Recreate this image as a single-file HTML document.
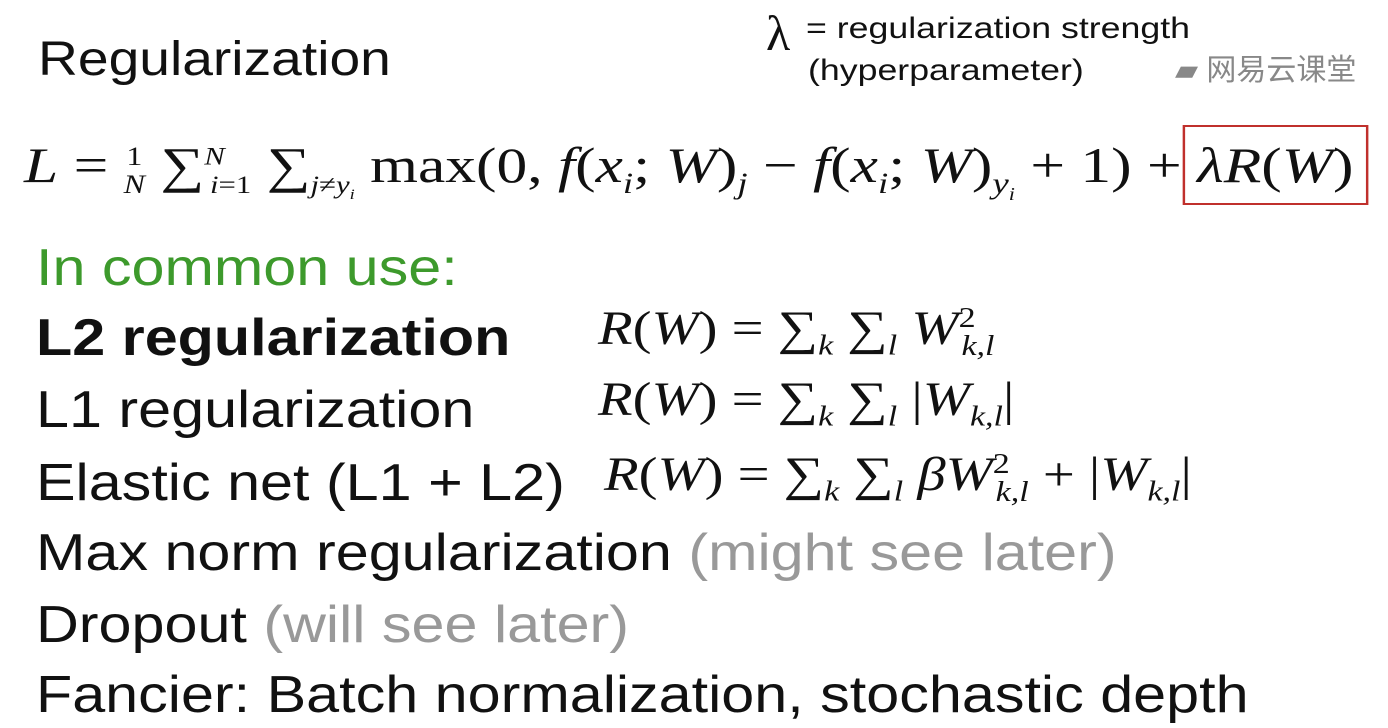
<!DOCTYPE html>
<html><head><meta charset="utf-8"><style>
body{margin:0;width:1388px;height:728px;background:#fff;overflow:hidden;position:relative;font-family:"Liberation Sans",sans-serif;color:#111}
.t{position:absolute;white-space:nowrap;line-height:1;transform-origin:0 0}
.s{font-size:52px;transform:scaleX(1.14)}
.g{color:#999}
.m{font-family:"Liberation Serif","DejaVu Serif",serif;font-size:48px;position:absolute;white-space:nowrap;line-height:1;transform-origin:0 0;transform:scaleX(1.18)}
.m i{font-style:italic}
sub,sup{font-size:60%}
</style></head><body>
<div class="t" style="left:38px;top:36px;font-size:48px;transform:scaleX(1.15)">Regularization</div>
<div class="t" style="left:766px;top:8px;font-size:50px;font-family:'Liberation Serif',serif">λ</div>
<div class="t" style="left:806px;top:14px;font-size:30px;transform:scaleX(1.19)">= regularization strength</div>
<div class="t" style="left:808px;top:56px;font-size:30px;transform:scaleX(1.19)">(hyperparameter)</div>
<div class="t" style="left:1175px;top:56px;font-size:30px;color:#888;font-family:'Liberation Sans','Noto Sans CJK SC',sans-serif">▰ 网易云课堂</div>

<div class="m" style="left:24px;top:140px;font-size:50px;transform:scaleX(1.23)"><i>L</i> = <span style="display:inline-block;font-size:26px;vertical-align:middle;text-align:center;line-height:1.05">1<br><i>N</i></span> ∑<sup style="font-size:50%"><i>N</i></sup><sub style="font-size:50%;margin-left:-12px"><i>i</i>=1</sub> ∑<sub style="font-size:50%"><i>j</i>≠<i>y<sub>i</sub></i></sub> max(0, <i>f</i>(<i>x<sub>i</sub></i>; <i>W</i>)<sub><i>j</i></sub> − <i>f</i>(<i>x<sub>i</sub></i>; <i>W</i>)<sub><i>y<sub>i</sub></i></sub> + 1) + <span style="outline:2px solid #c0302c;outline-offset:10px"><i>λR</i>(<i>W</i>)</span></div>

<div class="t s" style="left:36px;top:242px;color:#3d9a2c">In common use:</div>
<div class="t s" style="left:36px;top:312px;font-weight:bold">L2 regularization</div>
<div class="t s" style="left:36px;top:384px">L1 regularization</div>
<div class="t s" style="left:36px;top:457px">Elastic net (L1 + L2)</div>
<div class="t s" style="left:36px;top:527px">Max norm regularization <span class="g">(might see later)</span></div>
<div class="t s" style="left:36px;top:599px">Dropout <span class="g">(will see later)</span></div>
<div class="t s" style="left:36px;top:669px">Fancier: Batch normalization, stochastic depth</div>

<div class="m" style="left:598px;top:304px"><i>R</i>(<i>W</i>) = ∑<sub><i>k</i></sub> ∑<sub><i>l</i></sub> <i>W</i><sup>2</sup><sub style="margin-left:-12px"><i>k,l</i></sub></div>
<div class="m" style="left:598px;top:376px"><i>R</i>(<i>W</i>) = ∑<sub><i>k</i></sub> ∑<sub><i>l</i></sub> |<i>W</i><sub><i>k,l</i></sub>|</div>
<div class="m" style="left:604px;top:450px"><i>R</i>(<i>W</i>) = ∑<sub><i>k</i></sub> ∑<sub><i>l</i></sub> <i>βW</i><sup>2</sup><sub style="margin-left:-12px"><i>k,l</i></sub> + |<i>W</i><sub><i>k,l</i></sub>|</div>
</body></html>
